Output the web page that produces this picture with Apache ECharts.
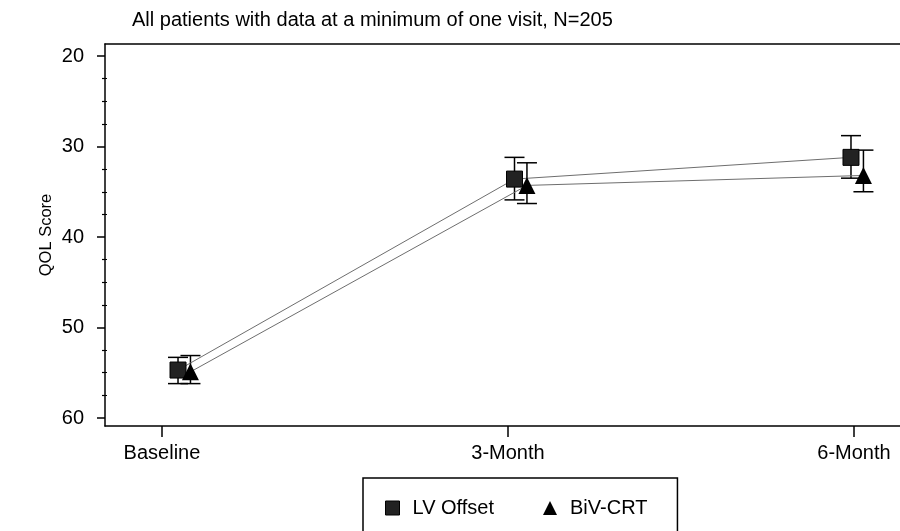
<!DOCTYPE html>
<html>
<head>
<meta charset="utf-8">
<script src="https://cdn.jsdelivr.net/npm/echarts@6/dist/echarts.min.js"></script>
<style>
  html, body { margin: 0; padding: 0; background: #fff; }
  #chart { width: 900px; height: 531px; }
</style>
</head>
<body>
<div id="chart"></div>
<script>
// visits (months since baseline) and their labels
const visits = [0, 3, 6];
const visitLabels = ['Baseline', '3-Month', '6-Month'];

// mean QOL score and error bar ends for each group
const lvOffsetMean = [54.7, 33.6, 31.2];
const lvOffsetLow = [53.3, 31.2, 28.8];
const lvOffsetHigh = [56.2, 35.9, 33.5];

const bivCrtMean = [54.9, 34.3, 33.2];
const bivCrtLow = [53.1, 31.8, 30.4];
const bivCrtHigh = [56.2, 36.3, 35.0];

const yMajor = [20, 30, 40, 50, 60];
const yMinor = [22.5, 25, 27.5, 32.5, 35, 37.5, 42.5, 45, 47.5, 52.5, 55, 57.5];

const FONT = 'Liberation Sans, Arial, Helvetica, sans-serif';
const groupShift = 0.111; // triangles drawn a little to the right of the squares

const chart = echarts.init(document.getElementById('chart'));

function points(mean, shift) {
  return visits.map((v, i) => [v + shift, mean[i]]);
}
function bars(low, high, shift) {
  return visits.map((v, i) => [v + shift, low[i], high[i]]);
}

function renderErrorBar(params, api) {
  const x = api.value(0);
  const top = api.coord([x, api.value(1)]);
  const bottom = api.coord([x, api.value(2)]);
  const half = 10;
  const style = { stroke: '#000', lineWidth: 1.5 };
  return {
    type: 'group',
    children: [
      { type: 'line', shape: { x1: top[0], y1: top[1], x2: bottom[0], y2: bottom[1] }, style: style },
      { type: 'line', shape: { x1: top[0] - half, y1: top[1], x2: top[0] + half, y2: top[1] }, style: style },
      { type: 'line', shape: { x1: bottom[0] - half, y1: bottom[1], x2: bottom[0] + half, y2: bottom[1] }, style: style }
    ]
  };
}

const yRange = { min: 18.674, max: 60.884, inverse: true, offset: 0, position: 'left' };

const option = {
  animation: false,
  backgroundColor: '#fff',
  textStyle: { fontFamily: FONT },
  title: {
    text: 'All patients with data at a minimum of one visit, N=205',
    left: 127,
    top: 5,
    textStyle: { fontFamily: FONT, fontSize: 20, fontWeight: 'normal', color: '#000' }
  },
  grid: { left: 105, right: 0, top: 44, bottom: 105 },
  legend: {
    left: 363,
    top: 478,
    orient: 'horizontal',
    borderColor: '#000',
    borderWidth: 1.5,
    padding: [20, 30, 30, 22],
    itemGap: 49,
    itemWidth: 14,
    itemHeight: 14,
    textStyle: { fontFamily: FONT, fontSize: 20, color: '#000', padding: [0, 0, 0, 8] },
    data: [
      { name: 'LV Offset', icon: 'rect', itemStyle: { color: '#222', borderColor: '#000', borderWidth: 1 } },
      { name: 'BiV-CRT', icon: 'triangle', itemStyle: { color: '#000' } }
    ]
  },
  xAxis: [
    {
      type: 'value',
      min: -0.494,
      max: 6.399,
      position: 'bottom',
      splitLine: { show: false },
      axisLine: { show: true, onZero: false, lineStyle: { color: '#000', width: 1.5 } },
      axisTick: { show: true, customValues: visits, length: 11, lineStyle: { color: '#000', width: 1.5 } },
      axisLabel: {
        customValues: visits,
        margin: 17,
        fontSize: 20,
        color: '#000',
        formatter: v => visitLabels[visits.indexOf(v)]
      }
    },
    {
      type: 'value',
      min: 0,
      max: 1,
      position: 'top',
      splitLine: { show: false },
      axisLine: { show: true, onZero: false, lineStyle: { color: '#000', width: 1.5 } },
      axisTick: { show: false },
      axisLabel: { show: false }
    },
    {
      type: 'value',
      min: -0.651,
      max: 6.437,
      show: false,
      splitLine: { show: false }
    }
  ],
  yAxis: [
    Object.assign({
      type: 'value',
      name: 'QOL Score',
      nameLocation: 'middle',
      nameGap: 50,
      nameMoveOverlap: false,
      nameTextStyle: { fontFamily: FONT, fontSize: 16.5, color: '#000' },
      splitLine: { show: false },
      axisLine: { show: true, onZero: false, lineStyle: { color: '#000', width: 1.5 } },
      axisTick: { show: true, customValues: yMajor, length: 8, lineStyle: { color: '#000', width: 1.5 } },
      axisLabel: { customValues: yMajor, margin: 21, fontSize: 20, color: '#000' }
    }, yRange),
    Object.assign({
      type: 'value',
      splitLine: { show: false },
      axisLine: { show: false, onZero: false },
      axisTick: { show: true, customValues: yMinor, length: 3, lineStyle: { color: '#000', width: 1.2 } },
      axisLabel: { show: false }
    }, yRange),
    Object.assign({
      type: 'value',
      splitLine: { show: false },
      axisLine: { show: false, onZero: false },
      axisTick: { show: true, inside: true, customValues: yMinor, length: 2, lineStyle: { color: '#000', width: 1.2 } },
      axisLabel: { show: false }
    }, yRange)
  ],
  series: [
    {
      name: 'LV Offset error',
      type: 'custom',
      xAxisIndex: 2,
      yAxisIndex: 0,
      renderItem: renderErrorBar,
      data: bars(lvOffsetLow, lvOffsetHigh, 0),
      z: 1
    },
    {
      name: 'BiV-CRT error',
      type: 'custom',
      xAxisIndex: 2,
      yAxisIndex: 0,
      renderItem: renderErrorBar,
      data: bars(bivCrtLow, bivCrtHigh, groupShift),
      z: 1
    },
    {
      name: 'LV Offset',
      type: 'line',
      xAxisIndex: 2,
      yAxisIndex: 0,
      data: points(lvOffsetMean, 0),
      symbol: 'rect',
      symbolSize: 16,
      itemStyle: { color: '#222', borderColor: '#000', borderWidth: 1 },
      lineStyle: { color: '#6e6e6e', width: 1 },
      z: 3
    },
    {
      name: 'BiV-CRT',
      type: 'line',
      xAxisIndex: 2,
      yAxisIndex: 0,
      data: points(bivCrtMean, groupShift),
      symbol: 'triangle',
      symbolSize: 17,
      itemStyle: { color: '#000' },
      lineStyle: { color: '#6e6e6e', width: 1 },
      z: 3
    }
  ]
};

chart.setOption(option);
</script>
</body>
</html>
